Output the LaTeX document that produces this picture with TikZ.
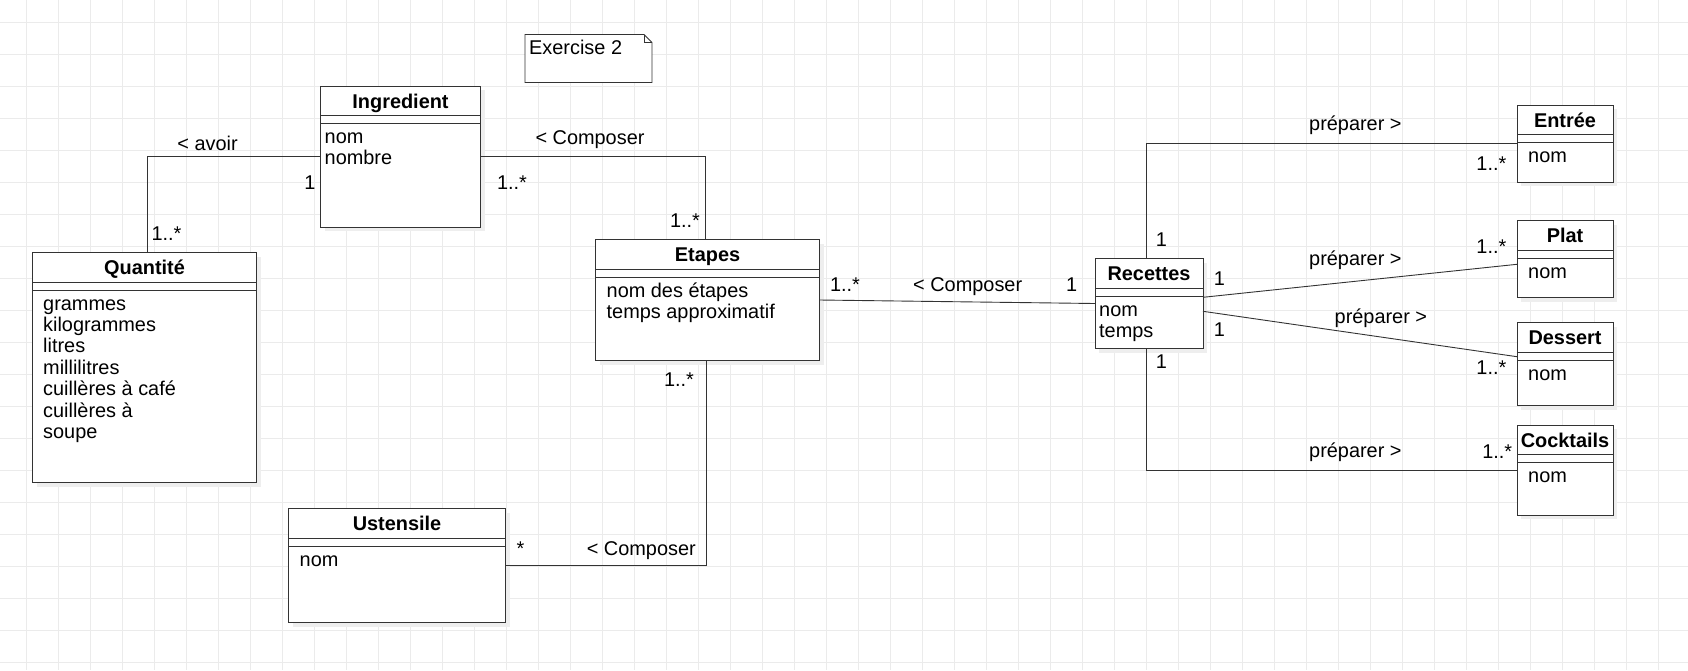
\documentclass[tikz,border=0pt]{standalone}
\usepackage{fontspec}
\setmainfont{Liberation Sans}
\usetikzlibrary{calc}
\definecolor{gridc}{HTML}{EBEBEB}
\definecolor{linec}{HTML}{333333}
\definecolor{shadowc}{HTML}{EEEEEE}
\tikzset{
  clsbox/.style={draw=linec, fill=white, line width=1pt, inner sep=0pt, outer sep=0pt},
  clsline/.style={draw=linec, line width=1pt},
  conn/.style={draw=linec, line width=0.9pt},
  titletext/.style={font=\fontsize{19.9}{21.4}\selectfont\bfseries, inner sep=0pt},
  attrtext/.style={font=\fontsize{19.9}{21.4}\selectfont, inner sep=0pt, align=left},
  lbl/.style={font=\fontsize{19.9}{21.4}\selectfont, inner sep=0pt, anchor=base},
}
% #1 name, #2 x, #3 y, #4 w, #5 h, #6 title, #7 attributes, #8 left padding, #9 number of attribute lines
\newcommand{\umlclass}[9]{%
  \fill[shadowc] (#2+4,#3+4) rectangle ++(#4,#5);
  \node[clsbox, anchor=north west, minimum width=#4pt, minimum height=#5pt] (#1) at (#2,#3) {};
  \draw[clsline] (#2,#3+29.5) -- ++(#4,0) (#2,#3+37.5) -- ++(#4,0);
  \node[titletext, anchor=base] (#1-title) at (#2+#4/2,#3+22) {#6};
  \node[attrtext, anchor=base west] (#1-attrs) at (#2+#8,#3+57.5+21.4*#9-21.4) {#7};
}
\begin{document}
\begin{tikzpicture}[x=1pt,y=-1pt]
\useasboundingbox (0,0) rectangle (1688,670);
\fill[white] (0,0) rectangle (1688,670);
% grid
\foreach \i in {0,...,52} { \draw[gridc, line width=1pt] (26+32*\i,0) -- (26+32*\i,670); }
\foreach \j in {0,...,20} { \draw[gridc, line width=1pt] (0,22+32*\j) -- (1688,22+32*\j); }

% note
\node[anchor=north west, minimum width=127pt, minimum height=48pt, inner sep=0pt, outer sep=0pt] (note) at (525,34.5) {};
\draw[clsline, line width=0.9pt, fill=white] (note.north west) -- ([xshift=-8pt]note.north east) -- ([yshift=-8pt]note.north east) -- (note.south east) -- (note.south west) -- cycle;
\draw[clsline, line width=0.9pt] ([xshift=-8pt]note.north east) -- ([xshift=-8pt,yshift=-8pt]note.north east) -- ([yshift=-8pt]note.north east);
\node[lbl, anchor=base west] (notetext) at (529,54) {Exercise 2};

% classes
\umlclass{qua}{32.5}{252.5}{224}{230}{Quantité}{grammes\\kilogrammes\\litres\\millilitres\\cuillères à café\\cuillères à\\soupe}{10.5}{7}
\umlclass{ing}{320.5}{86}{160}{141}{Ingredient}{nom\\nombre}{4}{2}
\umlclass{eta}{595.5}{239.5}{224}{121}{Etapes}{nom des étapes\\temps approximatif}{11}{2}
\umlclass{ust}{288.5}{508.5}{217}{114}{Ustensile}{nom}{11}{1}
\umlclass{rec}{1095}{258.5}{108}{90}{Recettes}{nom\\temps}{4}{2}
\umlclass{ent}{1517}{105}{96}{77}{Entrée}{nom}{11}{1}
\umlclass{pla}{1517}{220.5}{96}{77}{Plat}{nom}{11}{1}
\umlclass{des}{1517}{322.5}{96}{83}{Dessert}{nom}{11}{1}
\umlclass{coc}{1517}{425}{96}{90}{Cocktails}{nom}{11}{1}

% connectors
\draw[conn] (ing.west) -| ([xshift=2.5pt]qua.north);
\draw[conn] (ing.east) -| ([xshift=-2pt]eta.north);
\draw[conn] (eta.east) -- (rec.west);
\draw[conn] ([xshift=-1.5pt]eta.south) |- (ust.east);
\draw[conn] ([xshift=-3pt]rec.north) |- (ent.west);
\draw[conn] ([yshift=6.2pt]rec.east) -- ([yshift=-5.3pt]pla.west);
\draw[conn] ([yshift=-7.8pt]rec.east) -- ([yshift=7.3pt]des.west);
\draw[conn] ([xshift=-3pt]rec.south) |- (coc.west);

% labels
\node[lbl] (la1) at (207.6,150) {< avoir};
\node[lbl] (la2) at (310,189.3) {1};
\node[lbl] (la3) at (166.5,240) {1..*};
\node[lbl] (lb1) at (590,144) {< Composer};
\node[lbl] (lb2) at (512,189.3) {1..*};
\node[lbl] (lb3) at (685,227.3) {1..*};
\node[lbl] (lc1) at (845,291.3) {1..*};
\node[lbl] (lc2) at (967.7,291.3) {< Composer};
\node[lbl] (lc3) at (1071.7,291.3) {1};
\node[lbl] (ld1) at (679,386) {1..*};
\node[lbl] (ld2) at (520.4,555) {*};
\node[lbl] (ld3) at (641.3,555) {< Composer};
\node[lbl] (le1) at (1355.4,130.7) {préparer >};
\node[lbl] (le2) at (1491.4,170.7) {1..*};
\node[lbl] (le3) at (1161.5,246) {1};
\node[lbl] (lf1) at (1355.4,265.7) {préparer >};
\node[lbl] (lf2) at (1491.4,253.3) {1..*};
\node[lbl] (lf3) at (1219.4,285.7) {1};
\node[lbl] (lg1) at (1380.9,323) {préparer >};
\node[lbl] (lg2) at (1491.4,374.7) {1..*};
\node[lbl] (lg3) at (1219.4,336) {1};
\node[lbl] (lh1) at (1355.4,457.3) {préparer >};
\node[lbl] (lh2) at (1497.2,458.7) {1..*};
\node[lbl] (lh3) at (1161.5,368.3) {1};
\end{tikzpicture}
\end{document}
